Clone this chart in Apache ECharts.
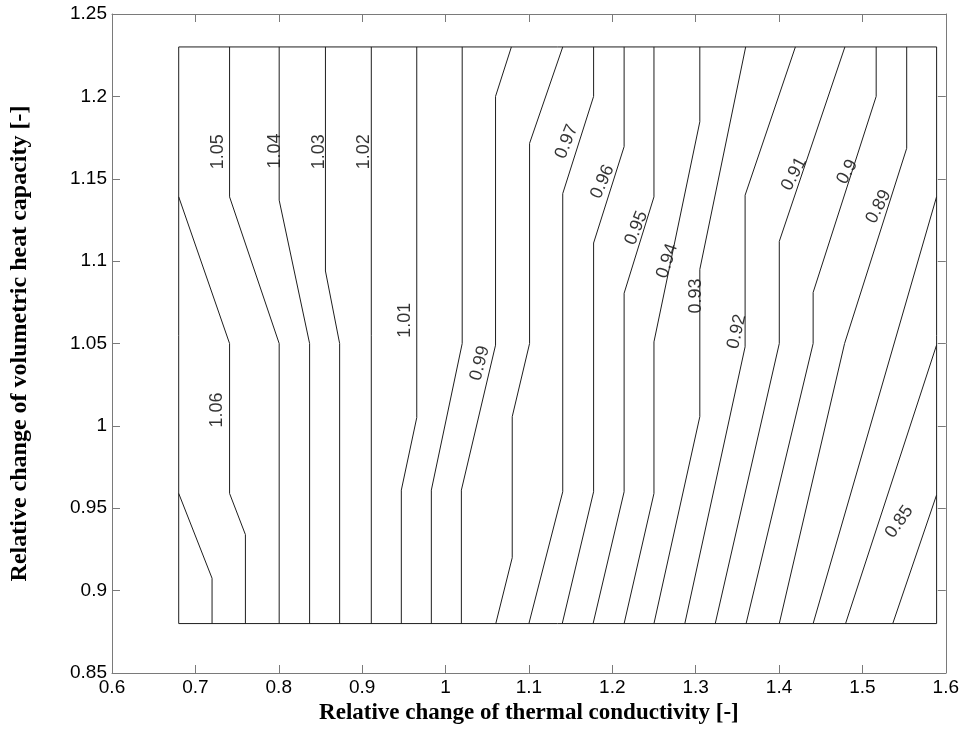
<!DOCTYPE html>
<html>
<head>
<meta charset="utf-8">
<title>Contour</title>
<style>body { margin: 0; background: #fff; }</style>
</head>
<body>
<div id="main" style="width:962px;height:740px;"></div>
<script src="https://cdn.jsdelivr.net/npm/echarts@6/dist/echarts.min.js"></script>
<script>
// axis ticks
var xTicks = [0.6, 0.7, 0.8, 0.9, 1.0, 1.1, 1.2, 1.3, 1.4, 1.5, 1.6];
var yTicks = [0.85, 0.9, 0.95, 1.0, 1.05, 1.1, 1.15, 1.2, 1.25];

// outline of the data region [x, y]
var frame = [[0.68, 0.88], [1.589, 0.88], [1.589, 1.23], [0.68, 1.23], [0.68, 0.88]];

// contour lines (x = thermal conductivity, y = heat capacity)
var c107 = [[0.68, 0.959], [0.72, 0.9075], [0.72, 0.88]];
var c106 = [[0.68, 1.139], [0.741, 1.05], [0.741, 0.959], [0.76, 0.934], [0.76, 0.88]];
var c105 = [[0.741, 1.23], [0.741, 1.139], [0.8005, 1.05], [0.8005, 0.88]];
var c104 = [[0.8005, 1.23], [0.8005, 1.137], [0.837, 1.05], [0.837, 0.88]];
var c103 = [[0.856, 1.23], [0.856, 1.094], [0.873, 1.05], [0.873, 0.88]];
var c102 = [[0.911, 1.23], [0.911, 0.88]];
var c101 = [[0.9655, 1.23], [0.9655, 1.005], [0.947, 0.961], [0.947, 0.88]];
var c100 = [[1.02, 1.23], [1.02, 1.05], [0.983, 0.961], [0.983, 0.88]];
var c099 = [[1.079, 1.23], [1.06, 1.2], [1.06, 1.049], [1.019, 0.961], [1.019, 0.88]];
var c098 = [[1.1406, 1.23], [1.1008, 1.1715], [1.1008, 1.05], [1.08, 1.0056], [1.08, 0.92], [1.0603, 0.88]];
var c097 = [[1.1776, 1.23], [1.1776, 1.2], [1.1406, 1.141], [1.1406, 0.96], [1.1, 0.88]];
var c096 = [[1.2142, 1.23], [1.2142, 1.1695], [1.1776, 1.111], [1.1776, 0.96], [1.14, 0.88]];
var c095 = [[1.25, 1.23], [1.25, 1.139], [1.2142, 1.0805], [1.2142, 0.96], [1.177, 0.88]];
var c094 = [[1.305, 1.23], [1.305, 1.1846], [1.25, 1.051], [1.25, 0.959], [1.2142, 0.88]];
var c093 = [[1.36, 1.23], [1.305, 1.095], [1.305, 1.0056], [1.25, 0.88]];
var c092 = [[1.4196, 1.23], [1.3593, 1.14], [1.3593, 1.048], [1.287, 0.88]];
var c091 = [[1.479, 1.23], [1.4003, 1.112], [1.4003, 1.05], [1.3235, 0.88]];
var c090 = [[1.5165, 1.23], [1.5165, 1.2], [1.4409, 1.081], [1.4409, 1.05], [1.3605, 0.88]];
var c089 = [[1.5531, 1.23], [1.5531, 1.1685], [1.4786, 1.05], [1.4003, 0.88]];
var c088 = [[1.5889, 1.139], [1.4409, 0.88]];
var c087 = [[1.5889, 1.049], [1.4798, 0.88]];
var c086 = [[1.5889, 0.958], [1.5364, 0.88]];

var contours = [c107, c106, c105, c104, c103, c102, c101, c100, c099, c098, c097,
    c096, c095, c094, c093, c092, c091, c090, c089, c088, c087, c086];

// contour labels
var labelText = ['1.06', '1.05', '1.04', '1.03', '1.02', '1.01', '0.99', '0.97', '0.96',
    '0.95', '0.94', '0.93', '0.92', '0.91', '0.9', '0.89', '0.85'];
var labelX = [0.7263, 0.7268, 0.7957, 0.8479, 0.9019, 0.9517, 1.0412, 1.1453, 1.1883,
    1.2289, 1.2659, 1.3004, 1.3494, 1.418, 1.4819, 1.5194, 1.5443];
var labelY = [1.0096, 1.1664, 1.1668, 1.1664, 1.1664, 1.0641, 1.038, 1.1725, 1.1482,
    1.1201, 1.1001, 1.0788, 1.0572, 1.1529, 1.1541, 1.133, 0.9418];
var labelAngle = [90, 90, 90, 90, 90, 90, 75, 68, 66, 68, 72, 90, 77, 62, 62, 63, 55];

var axisGray = '#7a7a7a';
var lineColor = '#1e1e1e';
var sans = 'Arial, "Liberation Sans", sans-serif';
var serif = '"Times New Roman", "Liberation Serif", serif';

var myChart = echarts.init(document.getElementById('main'));

function makeX(pos, showLabels) {
    return {
        type: 'value',
        position: pos,
        min: xTicks[0],
        max: xTicks[xTicks.length - 1],
        interval: 0.1,
        name: showLabels ? 'Relative change of thermal conductivity [-]' : '',
        nameLocation: 'middle',
        nameGap: 29,
        nameTextStyle: { fontFamily: serif, fontWeight: 'bold', fontSize: 23, color: '#000' },
        axisLine: { show: true, onZero: false, lineStyle: { color: axisGray, width: 1 } },
        axisTick: { show: true, inside: true, length: 8, lineStyle: { color: axisGray } },
        axisLabel: { show: showLabels, fontFamily: sans, fontSize: 19, color: '#000', margin: 5 },
        splitLine: { show: false }
    };
}

function makeY(pos, showLabels) {
    return {
        type: 'value',
        position: pos,
        min: yTicks[0],
        max: yTicks[yTicks.length - 1],
        interval: 0.05,
        name: showLabels ? 'Relative change of volumetric heat capacity [-]' : '',
        nameLocation: 'middle',
        nameGap: 80,
        nameTextStyle: { fontFamily: serif, fontWeight: 'bold', fontSize: 24, color: '#000' },
        axisLine: { show: true, onZero: false, lineStyle: { color: axisGray, width: 1 } },
        axisTick: { show: true, inside: true, length: 8, lineStyle: { color: axisGray } },
        axisLabel: { show: showLabels, fontFamily: sans, fontSize: 19, color: '#000', margin: 5 },
        splitLine: { show: false }
    };
}

var series = [];
series.push({
    type: 'line',
    data: frame,
    showSymbol: false,
    lineStyle: { color: lineColor, width: 1 },
    silent: true
});
contours.forEach(function (c) {
    series.push({
        type: 'line',
        data: c,
        showSymbol: false,
        lineStyle: { color: lineColor, width: 1 },
        silent: true
    });
});

var labelData = [];
for (var i = 0; i < labelText.length; i++) {
    labelData.push({
        value: [labelX[i], labelY[i]],
        name: labelText[i],
        label: { rotate: labelAngle[i] }
    });
}
series.push({
    type: 'scatter',
    data: labelData,
    symbolSize: 0,
    silent: true,
    label: {
        show: true,
        position: 'inside',
        formatter: function (p) { return p.name; },
        fontFamily: sans,
        fontSize: 18,
        color: '#000',
        align: 'center',
        verticalAlign: 'middle'
    }
});

var option = {
    animation: false,
    backgroundColor: '#fff',
    grid: { left: 112, right: 12, top: 14, bottom: 67 },
    xAxis: [makeX('bottom', true), makeX('top', false)],
    yAxis: [makeY('left', true), makeY('right', false)],
    series: series
};

myChart.setOption(option);
</script>
</body>
</html>
